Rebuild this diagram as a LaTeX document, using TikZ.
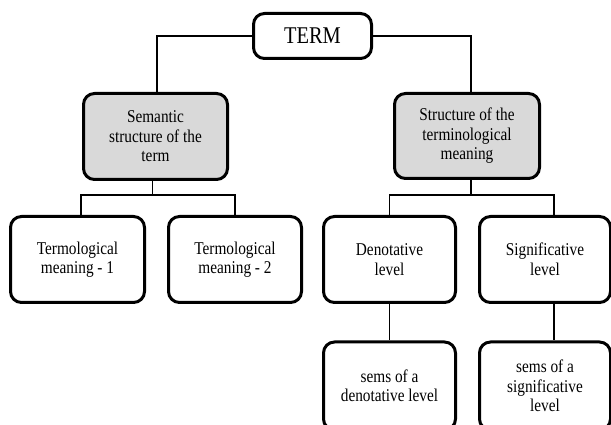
\documentclass[tikz,border=0pt]{standalone}
\usepackage{fontspec}
\setmainfont{Liberation Serif}
\newfontfamily\timesfont{Liberation Serif}[FakeStretch=0.85]
\definecolor{boxgray}{HTML}{D9D9D9}
\begin{document}
\begin{tikzpicture}[x=1pt,y=1pt,
  box/.style={draw, line width=3pt, rounded corners=11pt, align=center,
    font=\timesfont\fontsize{18}{19.5}\selectfont, inner sep=0pt},
  gbox/.style={box, fill=boxgray},
  link/.style={line width=1.5pt}]
\clip (0,0) rectangle (611,425);
\fill[white] (0,0) rectangle (611,425);
% level 0
\node[box, minimum width=118, minimum height=45, font=\timesfont\fontsize{24}{26}\selectfont] (term) at (312.5,389) {TERM};
% level 1
\node[gbox, minimum width=144, minimum height=86] (sem) at (155.5,288.5) {Semantic\\structure of the\\term};
\node[gbox, minimum width=145, minimum height=85] (str) at (467,289) {Structure of the\\terminological\\meaning};
% level 2
\node[box, minimum width=134, minimum height=86] (t1) at (77.5,165.5) {Termological\\meaning - 1};
\node[box, minimum width=133, minimum height=86] (t2) at (235,165.5) {Termological\\meaning - 2};
\node[box, minimum width=132, minimum height=86] (den) at (389.5,165.5) {Denotative\\level};
\node[box, minimum width=131, minimum height=86] (sig) at (545,165.5) {Significative\\level};
% level 3
\node[box, minimum width=132, minimum height=88] (sd) at (389.5,39) {sems of a\\denotative level};
\node[box, minimum width=131, minimum height=88] (ss) at (545,39) {sems of a\\significative\\level};
% connectors
\draw[link] (term.west) -| ([xshift=1.5pt]sem.north);
\draw[link] (term.east) -| ([xshift=4pt]str.north);
\coordinate (bus1) at ([xshift=-3pt,yshift=-14pt]sem.south);
\draw[link] ([xshift=-3pt]sem.south) -- (bus1);
\draw[link] ([xshift=3.5pt]t1.north) |- (bus1) -| (t2.north);
\coordinate (bus2) at ([xshift=4pt,yshift=-15pt]str.south);
\draw[link] ([xshift=4pt]str.south) -- (bus2);
\draw[link] (den.north) |- (bus2) -| ([xshift=9pt]sig.north);
\draw[link] (den.south) -- (sd.north);
\draw[link] ([xshift=9pt]sig.south) -- ([xshift=9pt]ss.north);
\end{tikzpicture}
\end{document}
